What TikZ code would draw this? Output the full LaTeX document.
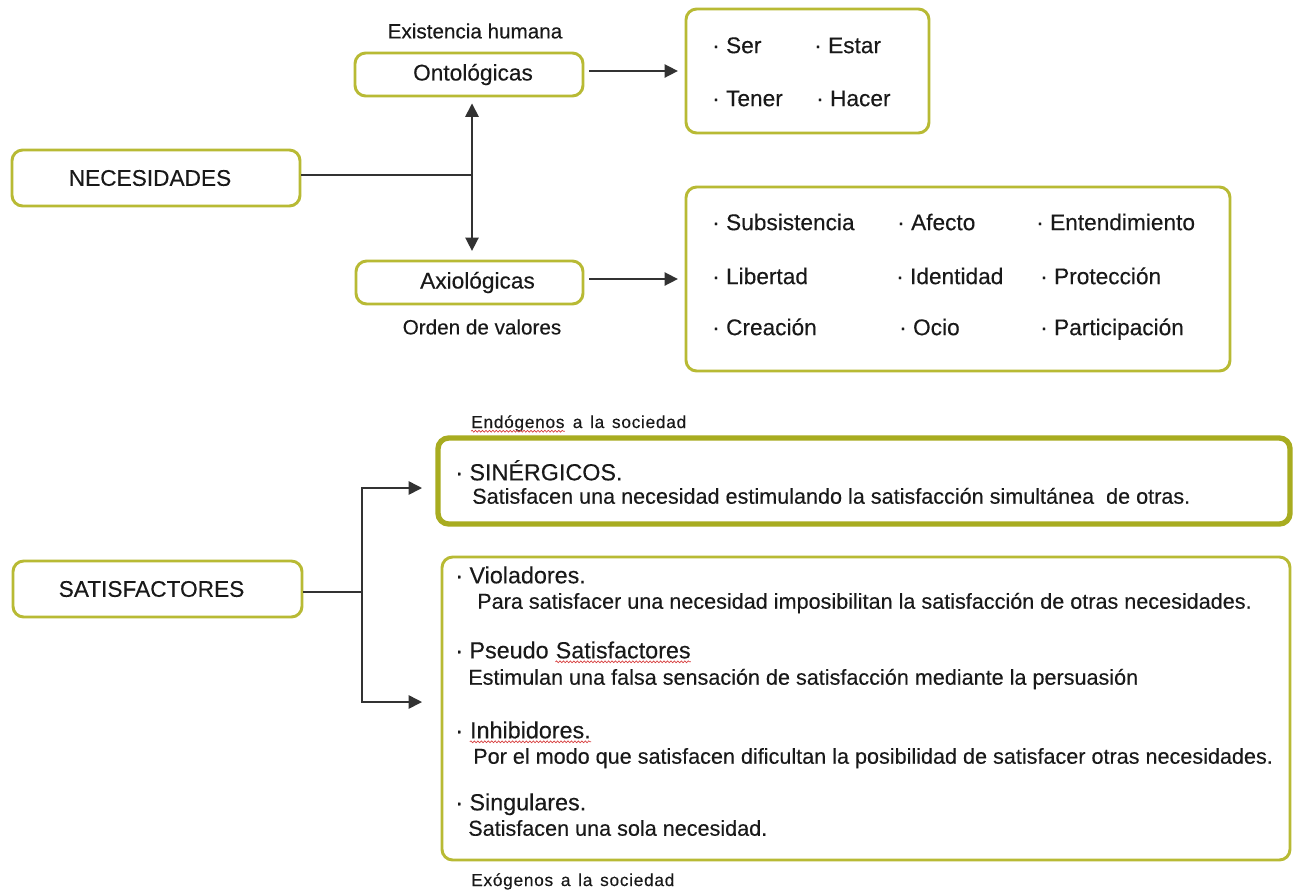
\documentclass[tikz,border=0pt]{standalone}
\usepackage{fontspec}
\setmainfont{Liberation Sans}[FakeBold=0.25]
\newfontfamily\smallspaced{Liberation Sans}[LetterSpace=4,WordSpace=1.4,FakeBold=0.2]
\usetikzlibrary{arrows.meta,decorations.pathmorphing,calc}
\definecolor{boxolive}{RGB}{184,186,52}
\definecolor{boxolivedark}{RGB}{168,172,32}
\definecolor{linec}{RGB}{50,50,50}
\definecolor{textc}{RGB}{25,25,25}
\definecolor{spellred}{RGB}{215,60,60}
\newcommand{\mainf}{\fontsize{17}{20}\selectfont}
\newcommand{\itemf}{\fontsize{17}{20}\selectfont}
\newcommand{\capf}{\fontsize{15.5}{18}\selectfont}
\newcommand{\headf}{\fontsize{17.5}{20}\selectfont}
\newcommand{\descf}{\fontsize{16.2}{19}\selectfont}
\newcommand{\tinyf}{\fontsize{13}{15}\smallspaced}
\begin{document}
\begin{tikzpicture}[x=0.75pt,y=-0.75pt,
  box/.style={draw=boxolive,line width=2.2pt,rounded corners=8pt,fill=white,inner sep=0pt,text=textc},
  item/.style={font=\itemf,anchor=west,inner sep=0pt,text height=12.2pt,text depth=0pt,text=textc},
  head/.style={font=\headf,anchor=west,inner sep=0pt,text height=12.5pt,text depth=0pt,text=textc},
  desc/.style={font=\descf,anchor=west,inner sep=0pt,text height=11.6pt,text depth=0pt,text=textc},
  note/.style={font=\tinyf,inner sep=0pt,text=textc},
  capt/.style={font=\capf,inner sep=0pt,text=textc},
  conn/.style={draw=linec,line width=1.2pt},
  arr/.style={conn,-{Triangle[length=10pt,width=10pt]}},
  wavy/.style={draw=spellred,line width=0.5pt,decorate,decoration={snake,amplitude=0.7pt,segment length=2.6pt}}
]
\path[fill=white,use as bounding box] (0,0) rectangle (1295,890);

% ---------- NECESIDADES ----------
\node[box,minimum width=216pt,minimum height=42pt,font=\mainf] (nec) at (156,178) {\hspace*{-9pt}NECESIDADES};
\node[box,minimum width=171pt,minimum height=32.25pt,font=\mainf] (ont) at (469,74.5) {\hspace*{6pt}Ontológicas};
\node[box,minimum width=170.25pt,minimum height=32.25pt,font=\mainf] (axi) at (469.5,282.5) {\hspace*{12pt}Axiológicas};
\node[capt] (exh) at (475,31) {Existencia humana};
\node[capt] (odv) at (482,327) {Orden de valores};

\node[box,minimum width=182.25pt,minimum height=93pt] (topb) at (807.5,71) {};
\node[box,minimum width=408pt,minimum height=138pt] (bigb) at (958,279) {};

\node[item] (ser) at (712,45) {· Ser};
\node[item] (estar) at (814,45) {· Estar};
\node[item] (tener) at (712,98) {· Tener};
\node[item] (hacer) at (816,98) {· Hacer};

\node[item] (subs) at (712,222) {· Subsistencia};
\node[item] (afec) at (897,222) {· Afecto};
\node[item] (ente) at (1036,222) {· Entendimiento};
\node[item] (libe) at (712,276) {· Libertad};
\node[item] (iden) at (896,276) {· Identidad};
\node[item] (prot) at (1040,276) {· Protección};
\node[item] (crea) at (712,327) {· Creación};
\node[item] (ocio) at (899,327) {· Ocio};
\node[item] (part) at (1040,327) {· Participación};

\coordinate (j1) at (472,175);
\draw[conn] (j1 -| nec.east) -- (j1);
\draw[arr,shorten >=4.5pt] (j1) -- (j1 |- ont.south);
\draw[arr,shorten >=6.5pt] (j1) -- (j1 |- axi.north);
\draw[arr,shorten <=3.75pt,shorten >=5pt] (ont.east |- topb.west) -- (topb.west);
\draw[arr,shorten <=3.75pt,shorten >=5pt] (axi.east |- bigb.west) -- (bigb.west);

% ---------- SATISFACTORES ----------
\node[box,minimum width=216.75pt,minimum height=42pt,font=\mainf] (sat) at (157.5,589) {\hspace*{-9pt}SATISFACTORES};
\node[box,draw=boxolivedark,line width=4pt,minimum width=639pt,minimum height=64.5pt] (sin) at (864,481) {};
\node[box,minimum width=636pt,minimum height=227.25pt] (low) at (866,708.5) {};

\node[note,anchor=base west] (endo) at (471,428) {Endógenos};
\node[note,anchor=base west] (endo2) at (endo.base east) {~a la sociedad};
\draw[wavy] ([yshift=-2.4pt]endo.base west) -- ([yshift=-2.4pt]endo.base east);

\node[head] (sinh) at (455,472) {· SINÉRGICOS.};
\node[desc] (sind) at (472,496) {Satisfacen una necesidad estimulando la satisfacción simultánea \ de otras.};

\node[head] (viol) at (455,575) {· Violadores.};
\node[desc] (viod) at (477,601) {Para satisfacer una necesidad imposibilitan la satisfacción de otras necesidades.};

\node[head] (ps1) at (455,650) {· Pseudo};
\node[head,anchor=base west] (ps2) at ([xshift=4.9pt]ps1.base east) {Satisfactores};
\draw[wavy] ([yshift=-2.6pt]ps2.base west) -- ([yshift=-2.6pt]ps2.base east);
\node[desc] (psd) at (468,677) {Estimulan una falsa sensación de satisfacción mediante la persuasión};

\node[head] (ih1) at (455,730) {·};
\node[head,anchor=base west] (ih2) at ([xshift=4.9pt]ih1.base east) {Inhibidores.};
\draw[wavy] ([yshift=-2.6pt]ih2.base west) -- ([yshift=-2.6pt]ih2.base east);
\node[desc] (ihd) at (473,756) {Por el modo que satisfacen dificultan la posibilidad de satisfacer otras necesidades.};

\node[head] (sing) at (455,802) {· Singulares.};
\node[desc] (sind2) at (468,828) {Satisfacen una sola necesidad.};

\node[note,anchor=base west] (exo) at (471,886) {Exógenos a la sociedad};

\coordinate (j2) at (362,592);
\coordinate (a1) at (422,488);
\coordinate (a2) at (422,702);
\draw[conn] (j2 -| sat.east) -- (j2);
\draw[arr] (j2) |- (a1);
\draw[arr] (j2) |- (a2);
\end{tikzpicture}
\end{document}
